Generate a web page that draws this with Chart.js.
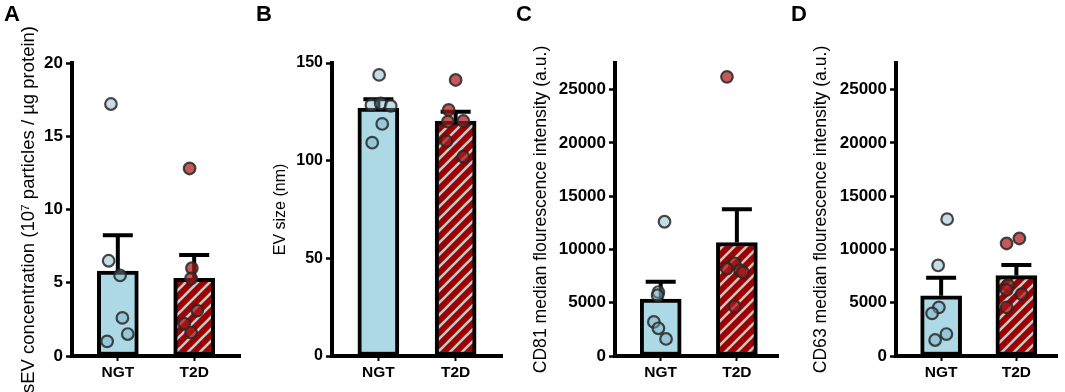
<!DOCTYPE html>
<html>
<head>
<meta charset="utf-8">
<script src="https://cdn.jsdelivr.net/npm/chart.js@4.4.1/dist/chart.umd.min.js"></script>
<style>
  html, body { margin: 0; padding: 0; background: #fff; }
  #wrap { position: relative; width: 1065px; height: 392px; overflow: hidden; }
  canvas { position: absolute; top: 0; }
  .letter { position: absolute; top: 3px; font: bold 22px/22px "Liberation Sans", Arial, sans-serif; color: #000; }
</style>
</head>
<body>
<div id="wrap">
  <canvas id="chartA" width="262" height="392" style="left:0px"></canvas>
  <canvas id="chartB" width="263" height="392" style="left:262px"></canvas>
  <canvas id="chartC" width="265" height="392" style="left:525px"></canvas>
  <canvas id="chartD" width="275" height="392" style="left:790px"></canvas>
  <div class="letter" style="left:4px">A</div>
  <div class="letter" style="left:256px">B</div>
  <div class="letter" style="left:516px">C</div>
  <div class="letter" style="left:791px">D</div>
</div>
<script>
// ---------------------------------------------------
// DATA
// ---------------------------------------------------
const groups = [ 'NGT', 'T2D' ];

// A - sEV concentration
const sevTicks = [ 0, 5, 10, 15, 20 ];
const sevMean = [ 5.8, 5.3 ];
const sevSem = [ 2.45, 1.6 ];
const sevNgt = [ 17.2, 6.5, 5.5, 2.6, 1.5, 1.0 ];
const sevT2d = [ 12.8, 6.0, 5.3, 3.1, 2.2, 1.6 ];
const sevJitterNgt = [ -0.09, -0.12, 0.03, 0.06, 0.13, -0.14 ];
const sevJitterT2d = [ -0.06, -0.03, -0.04, 0.04, -0.13, -0.04 ];

// B - EV size
const sizeTicks = [ 0, 50, 100, 150 ];
const sizeMean = [ 126.9, 120.3 ];
const sizeSem = [ 4.5, 4.8 ];
const sizeNgt = [ 143.9, 128.5, 129.3, 128, 118.8, 109.2 ];
const sizeT2d = [ 141.3, 126, 120, 120.3, 110, 102 ];
const sizeJitterNgt = [ 0.01, -0.09, 0.03, 0.16, 0.05, -0.08 ];
const sizeJitterT2d = [ 0, -0.09, -0.1, 0.1, -0.12, 0.1 ];

// C - CD81
const mfiTicks = [ 0, 5000, 10000, 15000, 20000, 25000 ];
const cd81Mean = [ 5350, 10650 ];
const cd81Sem = [ 1620, 3130 ];
const cd81Ngt = [ 12600, 6000, 5700, 3200, 2600, 1600 ];
const cd81T2d = [ 26200, 8700, 8200, 8050, 7850, 4650 ];
const cd81JitterNgt = [ 0.05, -0.03, -0.04, -0.09, -0.03, 0.07 ];
const cd81JitterT2d = [ -0.13, -0.03, -0.13, 0.04, 0.08, -0.03 ];

// D - CD63
const cd63Mean = [ 5650, 7550 ];
const cd63Sem = [ 1700, 980 ];
const cd63Ngt = [ 12840, 8500, 4565, 4000, 2060, 1500 ];
const cd63T2d = [ 11030, 10560, 6650, 6200, 5810, 4565 ];
const cd63JitterNgt = [ 0.08, -0.04, -0.03, -0.12, 0.07, -0.08 ];
const cd63JitterT2d = [ 0.04, -0.13, -0.11, -0.13, 0.07, -0.13 ];

// ---------------------------------------------------
Chart.defaults.font.family = '"Liberation Sans", Arial, sans-serif';
Chart.defaults.color = '#000';

function makeHatch() {
    const size = 12;
    const c = document.createElement( 'canvas' );
    c.width = size; c.height = size;
    const g = c.getContext( '2d' );
    g.fillStyle = '#9c0000';
    g.fillRect( 0, 0, size, size );
    g.strokeStyle = '#c8c8c8';
    g.lineWidth = 2.6;
    g.beginPath();
    g.moveTo( -2, size + 2 ); g.lineTo( size + 2, -2 );
    g.moveTo( -3, 3 ); g.lineTo( 3, -3 );
    g.moveTo( size - 3, size + 3 ); g.lineTo( size + 3, size - 3 );
    g.stroke();
    return g.createPattern( c, 'repeat' );
}
const hatch = makeHatch();

// error bars (upper SEM only) drawn right after the bars
const errorBars = {
    id: 'errorBars',
    afterDatasetDraw( chart, args ) {
        if ( args.meta.type !== 'bar' ) return;
        const ds = chart.data.datasets[ args.index ];
        const y = chart.scales.y;
        const ctx = chart.ctx;
        ctx.save();
        ctx.strokeStyle = '#000';
        ctx.lineWidth = 4;
        args.meta.data.forEach( function ( bar, i ) {
            const top = y.getPixelForValue( ds.data[ i ].y + ds.sem[ i ] );
            ctx.beginPath();
            ctx.moveTo( bar.x, bar.y );
            ctx.lineTo( bar.x, top );
            ctx.moveTo( bar.x - 15, top );
            ctx.lineTo( bar.x + 15, top );
            ctx.stroke();
        });
        ctx.restore();
    }
};

function points( values, jitter, group ) {
    return values.map( function ( v, i ) { return { x: group + jitter[ i ], y: v }; });
}

function makePanel( id, p ) {
    return new Chart( document.getElementById( id ), {
        type: 'bar',
        data: {
            datasets: [
                {
                    type: 'scatter', order: 1,
                    data: points( p.ngt, p.jNgt, 0 ),
                    backgroundColor: 'rgba(120,175,195,0.42)',
                    borderColor: 'rgba(40,40,40,0.85)',
                    borderWidth: 2.2, pointRadius: 5.8
                },
                {
                    type: 'scatter', order: 1,
                    data: points( p.t2d, p.jT2d, 1 ),
                    backgroundColor: 'rgba(175,25,25,0.72)',
                    borderColor: 'rgba(40,40,40,0.85)',
                    borderWidth: 2.2, pointRadius: 5.8
                },
                {
                    type: 'bar', order: 2,
                    data: p.mean.map( function ( m, i ) { return { x: i, y: m }; }),
                    sem: p.sem,
                    backgroundColor: [ '#add8e6', hatch ],
                    borderColor: '#000',
                    borderWidth: 4,
                    borderSkipped: false,
                    barThickness: 41
                }
            ]
        },
        options: {
            responsive: false,
            animation: false,
            events: [],
            layout: { padding: { left: p.padL, right: p.padR, top: 63, bottom: 0 } },
            plugins: { legend: { display: false }, tooltip: { enabled: false } },
            scales: {
                x: {
                    type: 'linear', min: -0.6, max: p.xMax, offset: false,
                    afterBuildTicks: function ( s ) { s.ticks = groups.map( function ( g, i ) { return { value: i }; }); },
                    afterFit: function ( s ) { s.height = 36; },
                    ticks: {
                        callback: function ( v ) { return groups[ v ]; },
                        font: { size: 15.5, weight: 'bold' }, color: '#000',
                        padding: 2, autoSkip: false, maxRotation: 0
                    },
                    grid: { offset: false, drawOnChartArea: false, tickLength: 5, tickWidth: 2, tickColor: '#000' },
                    border: { display: true, color: '#000', width: 4 }
                },
                y: {
                    min: 0, max: p.yMax,
                    afterBuildTicks: function ( s ) { s.ticks = p.ticks.map( function ( v ) { return { value: v }; }); },
                    afterFit: function ( s ) { s.width = p.yWidth; },
                    ticks: {
                        callback: function ( v ) { return String( v ); },
                        font: { size: p.tickSize, weight: 'bold' }, color: '#000', padding: 3
                    },
                    title: {
                        display: true, text: p.title, color: '#000', padding: 0,
                        font: { family: '"Liberation Sans", Arial, sans-serif', size: p.titleSize, weight: 'normal' }
                    },
                    grid: { drawOnChartArea: false, tickLength: 6, tickWidth: 2.5, tickColor: '#000' },
                    border: { display: true, color: '#000', width: 4 }
                }
            }
        },
        plugins: [ errorBars ]
    });
}

makePanel( 'chartA', {
    mean: sevMean, sem: sevSem, ngt: sevNgt, t2d: sevT2d, jNgt: sevJitterNgt, jT2d: sevJitterT2d,
    ticks: sevTicks, title: 'sEV concentration (10⁷ particles / µg protein)',
    yMax: 20, xMax: 1.6, padL: 18, padR: 22, yWidth: 54, tickSize: 17, titleSize: 18.5
});
makePanel( 'chartB', {
    mean: sizeMean, sem: sizeSem, ngt: sizeNgt, t2d: sizeT2d, jNgt: sizeJitterNgt, jT2d: sizeJitterT2d,
    ticks: sizeTicks, title: 'EV size (nm)',
    yMax: 150, xMax: 1.6, padL: 9, padR: 23, yWidth: 61, tickSize: 16, titleSize: 16
});
makePanel( 'chartC', {
    mean: cd81Mean, sem: cd81Sem, ngt: cd81Ngt, t2d: cd81T2d, jNgt: cd81JitterNgt, jT2d: cd81JitterT2d,
    ticks: mfiTicks, title: 'CD81 median flourescence intensity (a.u.)',
    yMax: 27500, xMax: 1.54, padL: 6, padR: 12, yWidth: 84, tickSize: 17, titleSize: 17.6
});
makePanel( 'chartD', {
    mean: cd63Mean, sem: cd63Sem, ngt: cd63Ngt, t2d: cd63T2d, jNgt: cd63JitterNgt, jT2d: cd63JitterT2d,
    ticks: mfiTicks, title: 'CD63 median flourescence intensity (a.u.)',
    yMax: 27500, xMax: 1.54, padL: 21, padR: 7, yWidth: 85, tickSize: 17, titleSize: 17.6
});
</script>
</body>
</html>
